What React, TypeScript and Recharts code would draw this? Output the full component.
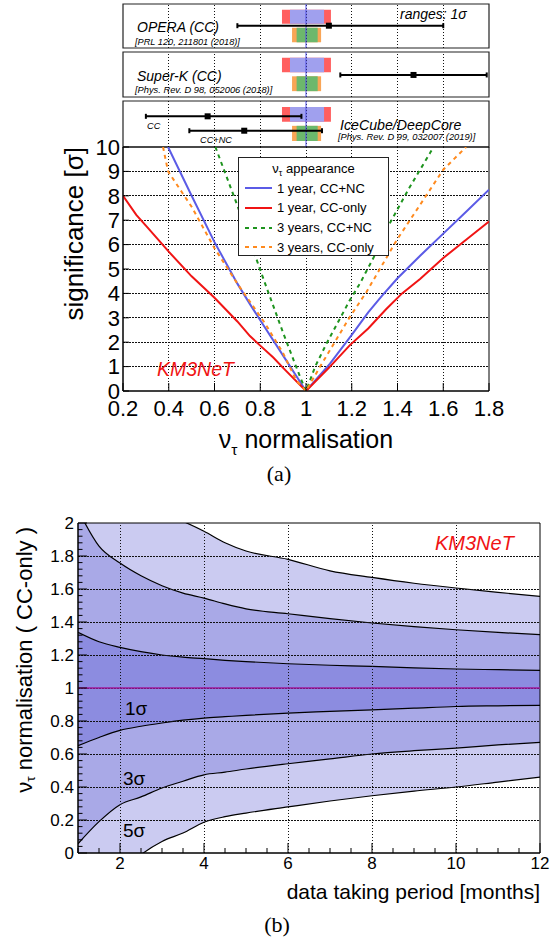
import React from "react";
import {
  Area,
  ComposedChart,
  ErrorBar,
  Legend,
  Line,
  ReferenceArea,
  ReferenceLine,
  Scatter,
  XAxis,
  YAxis,
} from "recharts";

const SANS = '"Liberation Sans", Arial, Helvetica, sans-serif';
const SERIF = '"Liberation Serif", "Times New Roman", serif';

// KM3NeT 1 sigma ranges of the nu_tau normalisation (top panels)
const range1yrCCNC = [0.93, 1.079];
const range1yrCC = [0.895, 1.109];
const range3yrCCNC = [0.959, 1.051];
const range3yrCC = [0.939, 1.066];

// other measurements: [low, best fit, high]
const operaCC = [0.7, 1.1, 1.6];
const superKCC = [1.15, 1.47, 1.79];
const iceCubeCC = [0.3, 0.57, 0.98];
const iceCubeCCNC = [0.49, 0.73, 1.07];

// (a) significance vs nu_tau normalisation
const ccnc1yrX = [0.397, 0.5, 0.6, 0.7, 0.755, 0.8, 0.9, 1.0, 1.105, 1.2, 1.272, 1.33, 1.4, 1.5, 1.6, 1.7, 1.8];
const ccnc1yrY = [10, 8.0, 6.1, 4.4, 3.56, 2.9, 1.45, 0, 1.12, 2.3, 3.22, 3.88, 4.62, 5.55, 6.45, 7.35, 8.25];
const cc1yrX = [0.2, 0.258, 0.3, 0.4, 0.5, 0.6, 0.7, 0.755, 0.8, 0.857, 0.9, 1.0, 1.1, 1.192, 1.272, 1.35, 1.42, 1.5, 1.6, 1.7, 1.8];
const cc1yrY = [8.0, 7.22, 6.78, 5.71, 4.7, 3.82, 2.85, 2.25, 1.86, 1.37, 0.95, 0, 0.95, 1.88, 2.56, 3.35, 4.0, 4.6, 5.45, 6.2, 6.95];
const ccnc3yrX = [0.604, 0.7, 0.821, 0.901, 0.974, 1.0, 1.04, 1.09, 1.192, 1.236, 1.3, 1.367, 1.45, 1.542, 1.557];
const ccnc3yrY = [10, 7.6, 4.41, 2.36, 0.58, 0, 1.0, 1.95, 3.73, 4.41, 5.55, 6.88, 8.3, 9.75, 10];
const cc3yrX = [0.375, 0.397, 0.5, 0.6, 0.7, 0.821, 0.9, 0.957, 1.0, 1.061, 1.192, 1.265, 1.397, 1.5, 1.6, 1.7];
const cc3yrY = [10, 9.0, 7.55, 5.85, 4.4, 2.77, 1.55, 0.44, 0, 0.99, 3.04, 4.07, 6.19, 7.65, 9.07, 10];

// (b) allowed normalisation (CC-only) vs data taking period
const months = [1, 1.5, 2, 2.5, 3, 3.5, 4, 4.5, 5, 6, 7, 8, 9, 10, 11, 12];
const sig1Hi = [1.337, 1.28, 1.246, 1.22, 1.2, 1.187, 1.178, 1.168, 1.16, 1.147, 1.138, 1.131, 1.122, 1.115, 1.111, 1.107];
const sig1Lo = [0.65, 0.7, 0.743, 0.768, 0.788, 0.805, 0.818, 0.826, 0.834, 0.848, 0.858, 0.868, 0.878, 0.888, 0.892, 0.895];
const sig3Hi = [2.08, 1.86, 1.757, 1.68, 1.62, 1.575, 1.545, 1.51, 1.48, 1.45, 1.42, 1.394, 1.372, 1.353, 1.337, 1.323];
const sig3Lo = [0.056, 0.19, 0.293, 0.34, 0.394, 0.435, 0.474, 0.49, 0.509, 0.541, 0.57, 0.6, 0.62, 0.636, 0.655, 0.67];
const sig5Hi = [2.35, 2.28, 2.2, 2.13, 2.06, 2.01, 1.95, 1.88, 1.83, 1.78, 1.71, 1.67, 1.635, 1.606, 1.58, 1.555];
const sig5Lo = [-0.35, -0.2, -0.12, -0.01, 0.07, 0.121, 0.186, 0.22, 0.242, 0.279, 0.315, 0.347, 0.375, 0.4, 0.43, 0.46];

// tick labels
const normTicks = [0.2, 0.4, 0.6, 0.8, 1, 1.2, 1.4, 1.6, 1.8];
const sigTicks = [0, 1, 2, 3, 4, 5, 6, 7, 8, 9, 10];
const monthTicks = [2, 4, 6, 8, 10, 12];
const normBTicks = [0, 0.2, 0.4, 0.6, 0.8, 1, 1.2, 1.4, 1.6, 1.8, 2];

// minor tick positions for (b)
const monthMinor = Array.from({ length: 23 }, (_, i) => 1 + i * 0.5);
const normBMinor = Array.from({ length: 51 }, (_, i) => +(i * 0.04).toFixed(2));

const fmt = (v: number) => String(+v.toFixed(2));
const toPts = (xs: number[], ys: number[]) => xs.map((x, i) => ({ x, y: ys[i] }));

const seriesA = [
  { name: "1 year, CC+NC", color: "#5b5be6", dash: undefined, pts: toPts(ccnc1yrX, ccnc1yrY) },
  { name: "1 year, CC-only", color: "#f01414", dash: undefined, pts: toPts(cc1yrX, cc1yrY) },
  { name: "3 years, CC+NC", color: "#1e941e", dash: "4 4", pts: toPts(ccnc3yrX, ccnc3yrY) },
  { name: "3 years, CC-only", color: "#ff8a1e", dash: "4 4", pts: toPts(cc3yrX, cc3yrY) },
];

const bandRows = months.map((m, i) => ({
  m,
  s5: [sig5Lo[i], sig5Hi[i]],
  s3: [sig3Lo[i], sig3Hi[i]],
  s1: [sig1Lo[i], sig1Hi[i]],
}));

// rows inside a top panel (fractions of the panel height)
const rowUpper = [0.55, 0.87];
const rowLower = [0.13, 0.46];

const GRID = { stroke: "#111", strokeWidth: 1, strokeDasharray: "1.5 1.5", shapeRendering: "crispEdges" };

const Square = (p: any) => <rect x={p.cx - 3} y={p.cy - 3} width={6} height={6} fill="#000" />;

function Panel({ top, height, bars }: { top: number; height: number; bars: { v: number[]; y: number }[] }) {
  const pts = bars.map((b) => ({ x: b.v[1], y: b.y, err: [b.v[1] - b.v[0], b.v[2] - b.v[1]] }));
  return (
    <div style={{ position: "absolute", left: 0, top }}>
      <ComposedChart width={550} height={height} margin={{ top: 1, right: 61, bottom: 1, left: 123 }}>
        <XAxis type="number" dataKey="x" domain={[0.2, 1.8]} ticks={normTicks} hide />
        <YAxis type="number" dataKey="y" domain={[0, 1]} hide />
        {normTicks.slice(1, -1).map((t) => (
          <ReferenceLine key={t} x={t} {...GRID} />
        ))}
        <ReferenceArea x1={range1yrCC[0]} x2={range1yrCC[1]} y1={rowUpper[0]} y2={rowUpper[1]} fill="#ff5f5f" fillOpacity={1} />
        <ReferenceArea x1={range1yrCCNC[0]} x2={range1yrCCNC[1]} y1={rowUpper[0]} y2={rowUpper[1]} fill="#a0a0ee" fillOpacity={1} />
        <ReferenceArea x1={range3yrCC[0]} x2={range3yrCC[1]} y1={rowLower[0]} y2={rowLower[1]} fill="#f9a556" fillOpacity={1} />
        <ReferenceArea x1={range3yrCCNC[0]} x2={range3yrCCNC[1]} y1={rowLower[0]} y2={rowLower[1]} fill="#6cb86c" fillOpacity={1} />
        <ReferenceLine x={1} stroke="#4f4fe8" strokeWidth={1} />
        <Scatter data={pts} dataKey="y" shape={Square} isAnimationActive={false}>
          <ErrorBar dataKey="err" direction="x" width={2.5} stroke="#000" strokeWidth={2} />
        </Scatter>
        <ReferenceArea x1={0.2} x2={1.8} y1={0} y2={1} fill="none" stroke="#222" strokeWidth={1.2} />
      </ComposedChart>
    </div>
  );
}

// nu_tau axis title (svg coordinates of its own chart)
function NuTitle(p: any) {
  const { tx, ty, size, rest, anchor, rotate } = p;
  return (
    <text
      x={tx}
      y={ty}
      fontSize={size}
      fontFamily={SANS}
      fill="#000"
      textAnchor={anchor}
      transform={rotate ? `rotate(-90 ${tx} ${ty})` : undefined}
      dominantBaseline={rotate ? "central" : undefined}
    >
      ν
      <tspan fontSize={size * 0.62} dy={size * 0.28}>τ</tspan>
      <tspan dy={-size * 0.28}>{rest}</tspan>
    </text>
  );
}

function SigTitle() {
  return (
    <text x={74} y={17} fontSize={26} fontFamily={SANS} fill="#000" textAnchor="end" dominantBaseline="central" transform="rotate(-90 74 17)">
      significance [σ]
    </text>
  );
}

function MonthTitle() {
  return (
    <text x={540} y={399} fontSize={21} fontFamily={SANS} fill="#000" textAnchor="end">
      data taking period [months]
    </text>
  );
}

function MonthTick(p: any) {
  const v = p.payload.value;
  const axisY = p.y - 4;
  const major = monthTicks.includes(v);
  return (
    <g>
      <line x1={p.x} x2={p.x} y1={axisY} y2={axisY - (major ? 10 : 5)} stroke="#000" />
      {major && (
        <text x={p.x} y={p.y} dy="0.71em" textAnchor="middle" fontSize={17} fontFamily={SANS} fill="#000">
          {v}
        </text>
      )}
    </g>
  );
}

function NormTick(p: any) {
  const v = p.payload.value;
  const axisX = p.x + 4;
  const major = normBTicks.some((t) => Math.abs(t - v) < 1e-6);
  return (
    <g>
      <line x1={axisX} x2={axisX + (major ? 9 : 4.5)} y1={p.y} y2={p.y} stroke="#000" />
      {major && (
        <text x={p.x} y={p.y} dy="0.355em" textAnchor="end" fontSize={17} fontFamily={SANS} fill="#000">
          {fmt(v)}
        </text>
      )}
    </g>
  );
}

function LegendA() {
  return (
    <div
      style={{
        width: 151,
        height: 99,
        boxSizing: "border-box",
        border: "1px solid #222",
        background: "#fff",
        fontFamily: SANS,
        fontSize: 13,
        color: "#000",
        paddingTop: 1,
      }}
    >
      <div style={{ height: 19.6, display: "flex", alignItems: "center", justifyContent: "center" }}>
        <span>
          ν<span style={{ fontSize: 9, position: "relative", top: 3 }}>τ</span> appearance
        </span>
      </div>
      {seriesA.map((s) => (
        <div key={s.name} style={{ height: 19.6, display: "flex", alignItems: "center" }}>
          <svg width={27} height={6} style={{ marginLeft: 6 }}>
            <line x1={0} x2={27} y1={3} y2={3} stroke={s.color} strokeWidth={2} strokeDasharray={s.dash} />
          </svg>
          <span style={{ marginLeft: 5, whiteSpace: "nowrap" }}>{s.name}</span>
        </div>
      ))}
    </div>
  );
}

function Note({ x, y, size, children, italic = true, color = "#000", family = SANS, center = false }: any) {
  return (
    <div
      style={{
        position: "absolute",
        left: x,
        top: y,
        transform: `translate(${center ? "-50%" : "0"}, -50%)`,
        fontSize: size,
        fontStyle: italic ? "italic" : "normal",
        color,
        fontFamily: family,
        lineHeight: 1,
        whiteSpace: "nowrap",
      }}
    >
      {children}
    </div>
  );
}

export default function App() {
  return (
    <div style={{ position: "absolute", left: 0, top: 0, width: 550, height: 942, background: "#fff", overflow: "hidden" }}>
      <Panel top={3} height={46} bars={[{ v: operaCC, y: 0.507 }]} />
      <Panel top={51} height={47} bars={[{ v: superKCC, y: 0.49 }]} />
      <Panel top={100} height={48} bars={[{ v: iceCubeCC, y: 0.667 }, { v: iceCubeCCNC, y: 0.354 }]} />

      {/* (a) significance */}
      <div style={{ position: "absolute", left: 0, top: 130 }}>
        <ComposedChart width={550} height={340} margin={{ top: 17, right: 61, bottom: 0, left: 0 }}>
          <XAxis
            type="number"
            dataKey="x"
            domain={[0.2, 1.8]}
            ticks={normTicks}
            interval={0}
            tickFormatter={fmt}
            allowDataOverflow
            tickSize={-8}
            tickMargin={17}
            height={79}
            stroke="#000"
            tick={{ fill: "#000", fontSize: 22, fontFamily: SANS }}
            label={<NuTitle tx={306} ty={318} size={25} rest=" normalisation" anchor="middle" />}
          />
          <YAxis
            type="number"
            dataKey="y"
            domain={[0, 10]}
            ticks={sigTicks}
            interval={0}
            allowDataOverflow
            tickSize={-6}
            tickMargin={9}
            width={123}
            stroke="#000"
            tick={{ fill: "#000", fontSize: 22, fontFamily: SANS }}
            label={<SigTitle />}
          />
          {normTicks.slice(1, -1).map((t) => (
            <ReferenceLine key={"gx" + t} x={t} {...GRID} />
          ))}
          {sigTicks.slice(1, -1).map((t) => (
            <ReferenceLine key={"gy" + t} y={t} {...GRID} />
          ))}
          {seriesA.map((s) => (
            <Line
              key={s.name}
              data={s.pts}
              dataKey="y"
              name={s.name}
              type="linear"
              stroke={s.color}
              strokeWidth={2}
              strokeDasharray={s.dash}
              dot={false}
              isAnimationActive={false}
            />
          ))}
          <ReferenceArea x1={0.2} x2={1.8} y1={0} y2={10} fill="none" stroke="#000" strokeWidth={1} />
          <Legend
            content={<LegendA />}
            layout="vertical"
            align="center"
            verticalAlign="middle"
            wrapperStyle={{ left: 238, top: 27, width: 151, height: 99 }}
          />
        </ComposedChart>
      </div>

      {/* (b) allowed range vs time */}
      <div style={{ position: "absolute", left: 0, top: 500 }}>
        <ComposedChart width={550} height={410} data={bandRows} margin={{ top: 23, right: 10, bottom: 0, left: 0 }}>
          <XAxis
            type="number"
            dataKey="m"
            domain={[1, 12]}
            ticks={monthMinor}
            interval={0}
            allowDataOverflow
            tickLine={false}
            tickSize={0}
            tickMargin={4}
            height={57}
            stroke="#000"
            tick={<MonthTick />}
            label={<MonthTitle />}
          />
          <YAxis
            type="number"
            domain={[0, 2]}
            ticks={normBMinor}
            interval={0}
            allowDataOverflow
            tickLine={false}
            tickSize={0}
            tickMargin={4}
            width={78}
            stroke="#000"
            tick={<NormTick />}
            label={<NuTitle tx={24} ty={27} size={22} rest=" normalisation ( CC-only )" anchor="end" rotate />}
          />
          <Area dataKey="s5" type="monotone" stroke="#000" strokeWidth={1.2} fill="#cbcbf1" fillOpacity={1} isAnimationActive={false} />
          <Area dataKey="s3" type="monotone" stroke="#000" strokeWidth={1.2} fill="#a9a9e7" fillOpacity={1} isAnimationActive={false} />
          <Area dataKey="s1" type="monotone" stroke="#000" strokeWidth={1.2} fill="#8c8ce0" fillOpacity={1} isAnimationActive={false} />
          {monthTicks.slice(0, -1).map((t) => (
            <ReferenceLine key={"bx" + t} x={t} {...GRID} />
          ))}
          {normBTicks.slice(1, -1).map((t) => (
            <ReferenceLine key={"by" + t} y={t} {...GRID} />
          ))}
          <ReferenceLine y={1} stroke="#a0189c" strokeWidth={1.5} />
          <ReferenceArea x1={1} x2={12} y1={0} y2={2} fill="none" stroke="#000" strokeWidth={1} />
        </ComposedChart>
      </div>

      {/* annotations */}
      <Note x={400} y={13.5} size={14}>ranges: 1σ</Note>
      <Note x={137} y={27} size={14}>OPERA (CC)</Note>
      <Note x={135} y={43} size={9.2}>[PRL 120, 211801 (2018)]</Note>
      <Note x={137} y={76} size={14}>Super-K (CC)</Note>
      <Note x={135} y={91} size={9.3}>[Phys. Rev. D 98, 052006 (2018)]</Note>
      <Note x={340} y={125} size={14.2}>IceCube/DeepCore</Note>
      <Note x={338} y={138} size={9.3}>[Phys. Rev. D 99, 032007 (2019)]</Note>
      <Note x={147} y={127} size={9.2}>CC</Note>
      <Note x={200} y={141} size={9.2}>CC+NC</Note>
      <Note x={157} y={370} size={19.5} color="#f01414">KM3NeT</Note>
      <Note x={279} y={474} size={22} italic={false} family={SERIF} center>(a)</Note>

      <Note x={435} y={543} size={20} color="#f01414">KM3NeT</Note>
      <Note x={125} y={708} size={19} italic={false}>1σ</Note>
      <Note x={123} y={778} size={19} italic={false}>3σ</Note>
      <Note x={123} y={830} size={19} italic={false}>5σ</Note>
      <Note x={277} y={925} size={22} italic={false} family={SERIF} center>(b)</Note>
    </div>
  );
}
